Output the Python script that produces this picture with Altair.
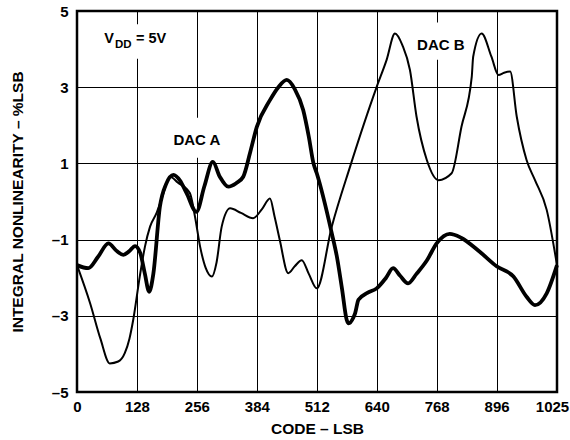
import altair as alt
import pandas as pd

# DAC A (thick curve)
a_code = [0, 24, 45, 67, 85, 99, 112, 124, 135, 145, 154, 163, 177, 190, 206, 220, 234, 255,
          272, 290, 305, 323, 340, 355, 370, 384, 412, 430, 448, 465, 483, 495, 505, 512,
          544, 555, 566, 576, 580, 590, 594, 601, 620, 640, 660, 675, 690, 707, 725, 747,
          768, 796, 820, 860, 896, 932, 960, 978, 1003, 1025]
a_inl = [-1.67, -1.75, -1.45, -1.10, -1.30, -1.40, -1.30, -1.17, -1.35, -1.90, -2.37, -1.90,
         -0.14, 0.45, 0.70, 0.55, 0.22, -0.27, 0.40, 1.04, 0.65, 0.39, 0.48, 0.65, 1.30,
         1.96, 2.66, 3.00, 3.19, 2.95, 2.40, 1.70, 1.00, 0.74, -0.83, -1.45, -2.30, -3.11,
         -3.20, -3.05, -2.93, -2.58, -2.40, -2.28, -2.00, -1.75, -1.95, -2.15, -1.90, -1.55,
         -1.10, -0.85, -0.95, -1.32, -1.70, -1.97, -2.50, -2.72, -2.41, -1.67]

# DAC B (thin curve)
b_code = [0, 28, 50, 70, 88, 102, 112, 120, 134, 145, 156, 170, 181, 199, 215, 241, 252, 263,
          275, 288, 298, 309, 327, 350, 376, 395, 412, 422, 433, 451, 465, 480, 495, 512,
          544, 583, 640, 661, 679, 695, 711, 725, 747, 772, 800, 821, 843, 846, 864, 885,
          900, 912, 925, 939, 960, 978, 1003, 1025]
b_inl = [-1.67, -2.67, -3.60, -4.25, -4.20, -3.98, -3.60, -3.11, -1.97, -1.19, -0.66, -0.30,
         0.08, 0.65, 0.50, 0.22, -0.40, -1.19, -1.75, -1.97, -1.60, -0.66, -0.18, -0.30,
         -0.44, -0.20, 0.08, -0.40, -1.01, -1.88, -1.70, -1.54, -1.90, -2.28, -0.66, 0.91,
         3.01, 3.71, 4.41, 4.10, 3.45, 2.23, 1.09, 0.56, 0.74, 1.96, 3.28, 3.80, 4.41, 3.80,
         3.32, 3.38, 3.41, 2.23, 1.09, 0.56, -0.22, -1.67]

x_ticks = [0, 128, 256, 384, 512, 640, 768, 896, 1025]
y_ticks = [-5, -3, -1, 1, 3, 5]

# annotation text (code, inl, text)
ann_text = ["V", "DD", "= 5V", "DAC A", "DAC B"]
ann_x = [58, 81, 126, 256, 777]
ann_y = [4.15, 4.03, 4.15, 1.48, 3.98]
ann_size = [14.5, 11.5, 14.5, 15, 15]
ann_align = ["left", "left", "left", "center", "center"]

# white label backgrounds (interrupt the grid)
box_x = [110, 231, 740]
box_x2 = [160, 284, 815]
box_y = [3.75, 1.15, 3.72]
box_y2 = [4.65, 2.20, 4.70]

FONT = "Liberation Sans"

dfa = pd.DataFrame({"code": a_code, "inl": a_inl})
dfb = pd.DataFrame({"code": b_code, "inl": b_inl})
dft = pd.DataFrame({"code": ann_x, "inl": ann_y, "text": ann_text,
                    "size": ann_size, "align": ann_align})
dfbox = pd.DataFrame({"x": box_x, "x2": box_x2, "y": box_y, "y2": box_y2})

xscale = alt.Scale(domain=[0, 1025], nice=False, zero=False)
yscale = alt.Scale(domain=[-5, 5], nice=False, zero=False)

xenc = alt.X("code:Q", scale=xscale, title="CODE – LSB",
             axis=alt.Axis(values=x_ticks, labelExpr="datum.value", grid=True,
                           labelFlush=False,
                           labelOffset={"condition": {"test": "datum.value == 1025", "value": -5}, "value": 0},
                           titlePadding=7, titleFontSize=15.5, labelPadding=7))
yenc = alt.Y("inl:Q", scale=yscale, title="INTEGRAL NONLINEARITY – %LSB",
             axis=alt.Axis(values=y_ticks,
                           labelExpr="datum.value < 0 ? '–' + abs(datum.value) : '' + datum.value",
                           labelFlush=False,
                           grid=True, labelPadding=9, titlePadding=26, titleFontSize=15.5))

boxes = alt.Chart(dfbox).mark_rect(color="white").encode(
    x=alt.X("x:Q", scale=xscale), x2="x2:Q",
    y=alt.Y("y:Q", scale=yscale), y2="y2:Q")

line_b = alt.Chart(dfb).mark_line(color="black", strokeWidth=2.0, interpolate="monotone").encode(
    x=xenc, y=yenc)
line_a = alt.Chart(dfa).mark_line(color="black", strokeWidth=3.8, interpolate="monotone").encode(
    x=alt.X("code:Q", scale=xscale), y=alt.Y("inl:Q", scale=yscale))

t_left = alt.Chart(dft[dft["align"] == "left"]).mark_text(
    font=FONT, fontWeight="bold", baseline="alphabetic", align="left", color="black").encode(
    x=alt.X("code:Q", scale=xscale), y=alt.Y("inl:Q", scale=yscale),
    text="text:N", size=alt.Size("size:Q", scale=None, legend=None))
t_center = alt.Chart(dft[dft["align"] == "center"]).mark_text(
    font=FONT, fontWeight="bold", baseline="alphabetic", align="center", color="black").encode(
    x=alt.X("code:Q", scale=xscale), y=alt.Y("inl:Q", scale=yscale),
    text="text:N", size=alt.Size("size:Q", scale=None, legend=None))

chart = alt.layer(line_b, boxes, line_a, t_left, t_center).properties(
    width=480, height=381,
    autosize=alt.AutoSizeParams(type="none"),
    padding={"left": 77, "top": 11, "right": 13, "bottom": 48},
    background="white",
).configure_view(
    stroke="black", strokeWidth=2.5
).configure_axis(
    domain=False, ticks=False,
    grid=True, gridColor="black", gridOpacity=1, gridWidth=1,
    labelFont=FONT, labelFontWeight="bold", labelFontSize=15, labelColor="black",
    titleFont=FONT, titleFontWeight="bold", titleColor="black",
)

chart.save("out.html", embed_options={"renderer": "svg", "actions": False})
